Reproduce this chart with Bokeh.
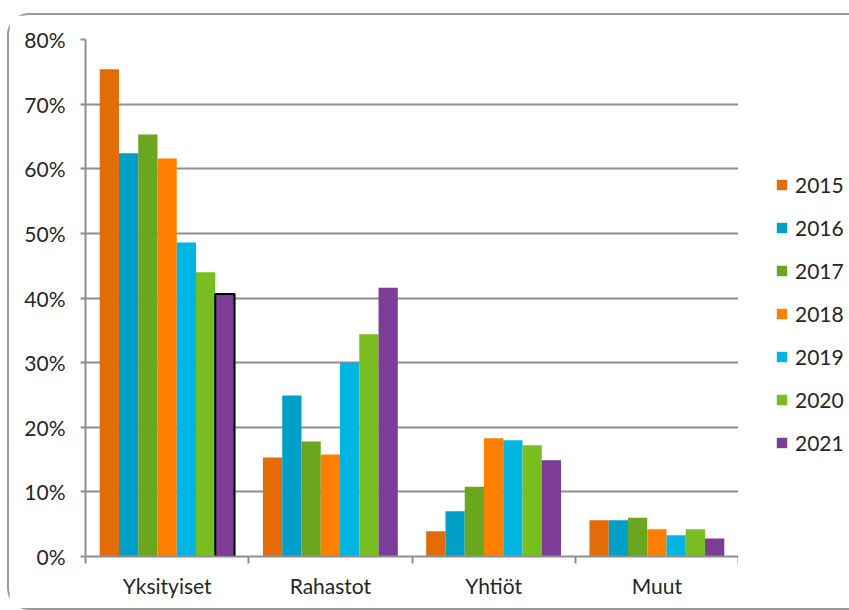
from bokeh.plotting import figure
from bokeh.layouts import row
from bokeh.models import (ColumnDataSource, FixedTicker, PrintfTickFormatter, Legend,
                          LegendItem, Range1d)
from bokeh.transform import dodge
from bokeh.embed import file_html
from bokeh.resources import INLINE

categories = ["Yksityiset", "Rahastot", "Yhtiöt", "Muut"]
years = ["2015", "2016", "2017", "2018", "2019", "2020", "2021"]
v2015 = [75.4, 15.3, 3.9, 5.6]
v2016 = [62.4, 24.9, 7.0, 5.6]
v2017 = [65.3, 17.8, 10.8, 6.0]
v2018 = [61.6, 15.8, 18.3, 4.2]
v2019 = [48.6, 30.0, 18.0, 3.3]
v2020 = [44.0, 34.4, 17.2, 4.2]
v2021 = [40.6, 41.6, 14.9, 2.8]
series = [v2015, v2016, v2017, v2018, v2019, v2020, v2021]
colors = ["#E36C09", "#009FC7", "#6AA61E", "#FF8000", "#00B5E2", "#78BE21", "#7D3C98"]
yticks = [0, 10, 20, 30, 40, 50, 60, 70, 80]

FONT = "Lato"
GRID = "#8f8f8f"
TXT = "#262626"
H = 593

p = figure(width=729, height=H, output_backend="svg", toolbar_location=None,
           x_range=Range1d(0, len(categories)), y_range=Range1d(0, 80),
           min_border_left=76, min_border_right=0, min_border_top=24,
           min_border_bottom=52)
p.outline_line_color = None
p.xgrid.grid_line_color = None
p.ygrid.grid_line_color = GRID
p.ygrid.grid_line_width = 2
p.ygrid.ticker = FixedTicker(ticks=yticks)

bar_w = 0.118
xs = [i + 0.5 for i in range(len(categories))]
for k, (yr, vals, col) in enumerate(zip(years, series, colors)):
    lc = ["black" if (yr == "2021" and i == 0) else None for i in range(len(vals))]
    src = ColumnDataSource(dict(x=xs, top=vals, lc=lc))
    p.vbar(x=dodge("x", (k - 3) * bar_w, range=p.x_range), top="top", bottom=0,
           width=bar_w, source=src, fill_color=col, line_color="lc", line_width=2)

# axes
p.xaxis.ticker = FixedTicker(ticks=xs, minor_ticks=list(range(len(categories) + 1)))
p.xaxis.major_label_overrides = {x: c for x, c in zip(xs, categories)}
p.xaxis.major_tick_out = 0
p.xaxis.major_tick_in = 0
p.xaxis.minor_tick_out = 7
p.xaxis.minor_tick_in = 0
p.xaxis.minor_tick_line_color = GRID
p.xaxis.minor_tick_line_width = 2
p.xaxis.major_label_standoff = 9

p.yaxis.ticker = FixedTicker(ticks=yticks)
p.yaxis.formatter = PrintfTickFormatter(format="%d%%")
p.yaxis.major_tick_out = 5
p.yaxis.major_tick_in = 0
p.yaxis.minor_tick_line_color = None
p.yaxis.major_label_standoff = 15

for ax in (p.xaxis, p.yaxis):
    ax.axis_line_color = GRID
    ax.axis_line_width = 2
    ax.major_tick_line_color = GRID
    ax.major_tick_line_width = 2
    ax.major_label_text_font = FONT
    ax.major_label_text_font_size = "21px"
    ax.major_label_text_color = TXT

# legend panel (swatches come from hidden, off-range stand-in bars)
p2 = figure(width=111, height=H, output_backend="svg", toolbar_location=None,
            x_range=Range1d(0, 1), y_range=Range1d(0, 1),
            x_axis_location=None, y_axis_location=None,
            min_border_left=0, min_border_right=0, min_border_top=0, min_border_bottom=0)
p2.outline_line_color = None
p2.xgrid.grid_line_color = None
p2.ygrid.grid_line_color = None
items = []
for yr, col in zip(years, colors):
    r = p2.vbar(x=[-10], top=[-10], bottom=-11, width=0.1, fill_color=col, line_color=None)
    items.append(LegendItem(label=yr, renderers=[r]))

legend = Legend(items=items, location=(37, 101), orientation="vertical")
legend.glyph_width = 13
legend.glyph_height = 13
legend.label_height = 20
legend.spacing = 18
legend.label_standoff = 7
legend.padding = 0
legend.margin = 0
legend.border_line_color = None
legend.background_fill_color = None
legend.label_text_font = FONT
legend.label_text_font_size = "21px"
legend.label_text_color = TXT
p2.add_layout(legend, "center")

lay = row(p, p2)
lay.margin = (13, 0, 0, 7)
lay.styles = {"border-top": "2px solid #9a9a9a", "border-left": "2px solid #9a9a9a",
              "border-bottom": "2px solid #9a9a9a", "border-top-left-radius": "22px",
              "border-bottom-left-radius": "22px"}

open("out.html", "w").write(file_html(lay, INLINE))
